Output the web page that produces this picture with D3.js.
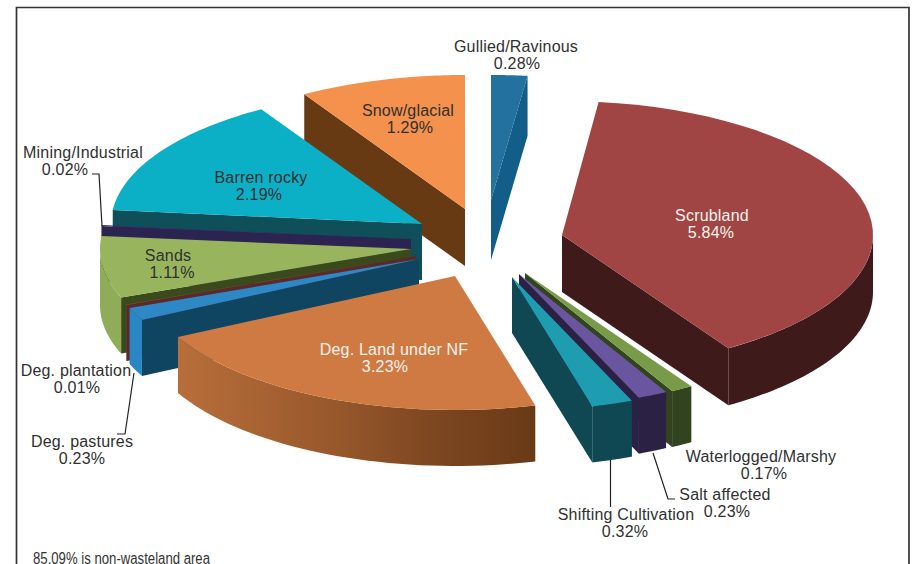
<!DOCTYPE html>
<html><head><meta charset="utf-8">
<script src="https://cdn.jsdelivr.net/npm/d3@7"></script>
<style>html,body{margin:0;background:#fff}svg{display:block}text{font-family:"Liberation Sans",Arial,sans-serif}</style>
</head><body><svg id="c" width="916" height="564"></svg>
<script>
// Data (percent of geographical area)
const categories = ["Gullied/Ravinous","Scrubland","Waterlogged/Marshy","Salt affected","Shifting Cultivation","Deg. Land under NF","Deg. pastures","Deg. plantation","Sands","Mining/Industrial","Barren rocky","Snow/glacial"];
const values = [0.28,5.84,0.17,0.23,0.32,3.23,0.23,0.01,1.11,0.02,2.19,1.29];
const valueLabels = ["0.28%","5.84%","0.17%","0.23%","0.32%","3.23%","0.23%","0.01%","1.11%","0.02%","2.19%","1.29%"];
const note = "85.09% is non-wasteland area";

// Styling and layout, kept apart from the data
const topColors  = ["#22719f","#a04544","#779b48","#6a56a0","#1f9db0","#cf7a42","#2e88c6","#8a4a3a","#98b55e","#3a2f66","#0cb0c6","#f3914d"];
const wallColors = ["#135e88","#3e1a1b","#31431f","#2a2145","#0f4853","url(#wallDeg)","#2b86c4","#6b3a2a","#8fad58","#2b2350","#0e4f59","#673a14"];
const faceColors = ["#135e88","#3e1a1b","#31431f","#2a2145","#0f4853","#6b3d16","#0f4560","#5a2a2a","#3a4a1c","#2b2350","#0e4f59","#673a14"];
const apexX = [491,562,525,519,512,455,419,416,411,411,422,465];
const apexY = [200,235,273,274,277,276,259,256,249,239,224,209];
const radiiY = [125,134,134,134,134,134,134,134,134,134,134,134];
const depths = [60,57,56,56,56,56,56,56,56,56,56,57];
const paintOrder = [11,0,1,10,9,8,7,6,2,3,4,5];
const RX = 311;

const svg = d3.select("#c");
const defs = svg.append("defs");
const grad = defs.append("linearGradient").attr("id","wallDeg").attr("gradientUnits","userSpaceOnUse")
  .attr("x1",178).attr("x2",534).attr("y1",0).attr("y2",0);
[[0,"#b86e3a"],[0.4,"#9b5a2d"],[0.75,"#7a4520"],[1,"#6a3a16"]].forEach(([o,c])=>grad.append("stop").attr("offset",o).attr("stop-color",c));

// frame
svg.append("path").attr("d","M16.5,564V7.5H909V564").attr("fill","none").attr("stroke","#333").attr("stroke-width",1.7);

const arcs = d3.pie().sort(null).value(d=>d).startAngle(0).endAngle(2*Math.PI)(values);
const line = d3.line().x(d=>d[0]).y(d=>d[1]);
const pt = (i,t,dz=0)=>[apexX[i]+RX*Math.sin(t), apexY[i]-radiiY[i]*Math.cos(t)+dz];
const samples = (a,b)=>d3.range(0,41).map(k=>a+(b-a)*k/40);
const g = svg.append("g");
paintOrder.forEach(i=>{
  const {startAngle:a,endAngle:b} = arcs[i], d=depths[i], apex=[apexX[i],apexY[i]];
  const sl = g.append("g");
  const face = t=>[apex,pt(i,t),pt(i,t,d),[apex[0],apex[1]+d]];
  if(Math.sin(a)<0) sl.append("path").attr("d",line(face(a))+"Z").attr("fill",faceColors[i]);
  if(Math.sin(b)>0) sl.append("path").attr("d",line(face(b))+"Z").attr("fill",faceColors[i]);
  const lo=Math.max(a,Math.PI/2), hi=Math.min(b,3*Math.PI/2);
  if(hi>lo){
    const ts=samples(lo,hi);
    const wall=[...ts.map(t=>pt(i,t)),...ts.slice().reverse().map(t=>pt(i,t,d))];
    sl.append("path").attr("d",line(wall)+"Z").attr("fill",wallColors[i]);
  }
  sl.append("path").attr("d",line([apex,...samples(a,b).map(t=>pt(i,t))])+"Z").attr("fill",topColors[i]);
});

// labels: [x, baseline] of the name line and of the value line
const labelPos = [[516,51.5],[712,220.5],[761,461.5],[725,500],[626,519.5],[394,355],[82,447],[76,375.5],[168,261],[83,158],[261,182.5],[408,116]];
const labelVal = [[517,68.5],[711,237.5],[764,478.5],[727,517],[625,536.5],[385,372],[82,464],[77,392.5],[172,278],[65,175],[259,199.5],[410,133]];
const white = new Set([1,5]);
categories.forEach((c,i)=>{
  const t=svg.append("text").attr("text-anchor","middle").attr("font-size",16).attr("letter-spacing",0.2).attr("fill",white.has(i)?"#f7f3ef":"#303030");
  t.append("tspan").attr("x",labelPos[i][0]).attr("y",labelPos[i][1]).text(c);
  t.append("tspan").attr("x",labelVal[i][0]).attr("y",labelVal[i][1]).text(valueLabels[i]);
});

// leader lines
const leaders=[[[92,174],[99,174],[102,226]],[[117,434],[125,434],[134,373]],[[610.5,460],[610.5,507]],[[653,453],[668,499],[675,499]]];
leaders.forEach(l=>svg.append("path").attr("d",line(l)).attr("fill","none").attr("stroke","#222").attr("stroke-width",1.2));

svg.append("text").attr("x",33).attr("y",563.5).attr("font-size",16).attr("fill","#333")
  .attr("textLength",177).attr("lengthAdjust","spacingAndGlyphs").text(note);
</script></body></html>
